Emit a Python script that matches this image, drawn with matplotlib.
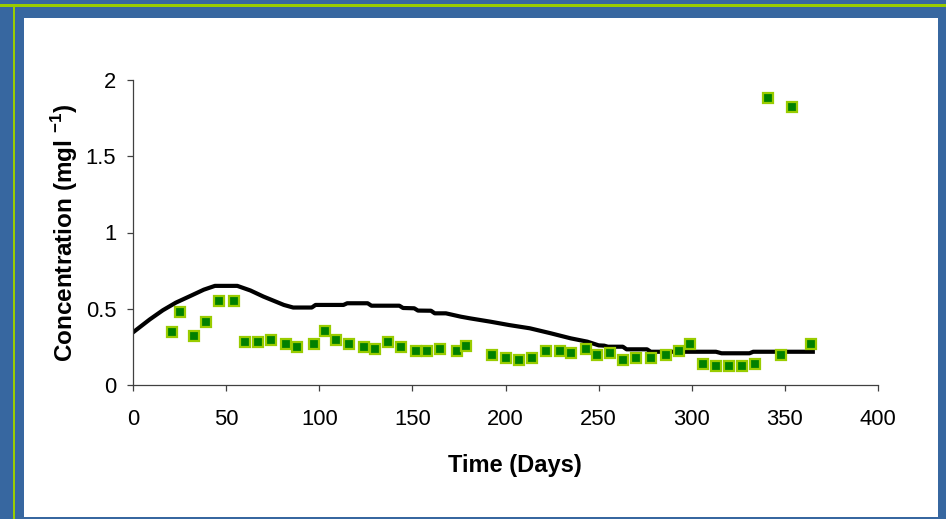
import numpy as np
import matplotlib.pyplot as plt
from matplotlib.patches import Rectangle

plt.rcParams['font.family'] = ['Liberation Sans', 'DejaVu Sans']
plt.rcParams['mathtext.fontset'] = 'custom'
plt.rcParams['mathtext.rm'] = 'Liberation Sans'
plt.rcParams['mathtext.bf'] = 'Liberation Sans:bold'

# observed concentrations (squares)
obs_day = [21, 25, 33, 39, 46, 54, 60, 67, 74, 82, 88, 97, 103, 109, 116, 124, 130,
           137, 144, 152, 158, 165, 174, 179, 193, 200, 207, 214, 222, 229, 235, 243,
           249, 256, 263, 270, 278, 286, 293, 299, 306, 313, 320, 327, 334, 341, 348,
           354, 364]
obs_conc = [0.35, 0.48, 0.32, 0.41, 0.55, 0.55, 0.28, 0.28, 0.295, 0.267, 0.25, 0.267,
            0.352, 0.295, 0.267, 0.25, 0.236,
            0.28, 0.251, 0.221, 0.221, 0.238, 0.221, 0.254, 0.195, 0.179, 0.164, 0.179,
            0.221, 0.221, 0.208, 0.238,
            0.195, 0.212, 0.164, 0.18, 0.18, 0.195, 0.223, 0.267, 0.138, 0.122, 0.122,
            0.122, 0.138, 1.88, 0.195, 1.823, 0.267]

# simulated concentration (line)
sim_day = [0, 9, 16, 23, 31, 38, 44, 56, 63, 70, 75, 81, 86, 96, 98, 113, 115, 126,
           128, 143, 145, 151, 153, 160, 162, 168, 176, 181, 192, 202, 213, 224, 235,
           244, 250, 253, 255, 263, 265, 276, 278, 313, 316, 331, 333, 365]
sim_conc = [0.345, 0.43, 0.49, 0.54, 0.585, 0.625, 0.65, 0.65, 0.62, 0.58, 0.555,
            0.525, 0.508, 0.508, 0.525, 0.525, 0.536, 0.536, 0.52, 0.52, 0.505, 0.503,
            0.488, 0.487, 0.47, 0.47, 0.448, 0.437, 0.415, 0.393, 0.372, 0.34, 0.306,
            0.284, 0.26, 0.258, 0.251, 0.251, 0.234, 0.234, 0.218, 0.218, 0.208, 0.208,
            0.218, 0.218]

x_ticks = [0, 50, 100, 150, 200, 250, 300, 350, 400]
y_ticks = [0, 0.5, 1, 1.5, 2]

fig = plt.figure(figsize=(9.46, 5.19), dpi=100)
fig.patch.set_facecolor('#3767a0')

# green frame lines and white panel (pixel based)
W, H = 946, 519
fig.patches.append(Rectangle((0, 1 - 7/H), 1, 2.5/H, transform=fig.transFigure,
                             facecolor='#99cc00', edgecolor='none', zorder=-5))
fig.patches.append(Rectangle((12.5/W, 0), 2.5/W, 1 - 4.5/H, transform=fig.transFigure,
                             facecolor='#99cc00', edgecolor='none', zorder=-5))
fig.patches.append(Rectangle((24/W, 2/H), (938-24)/W, (517-18)/H, transform=fig.transFigure,
                             facecolor='white', edgecolor='none', zorder=-5))

ax = fig.add_axes([133/W, 1 - 385/H, (878-133)/W, (385-80)/H])
ax.set_facecolor('none')

ax.plot(sim_day, sim_conc, color='black', linewidth=3, zorder=2)
ax.plot(obs_day, obs_conc, linestyle='none', marker='s', markersize=6.8,
        markerfacecolor='#008000', markeredgecolor='#99cc00', markeredgewidth=1.6,
        zorder=3)

ax.set_xlim(0, 400)
ax.set_ylim(0, 2)
ax.set_xticks(x_ticks)
ax.set_yticks(y_ticks)
ax.set_yticklabels(['0', '0.5', '1', '1.5', '2'])

for s in ['top', 'right']:
    ax.spines[s].set_visible(False)
for s in ['left', 'bottom']:
    ax.spines[s].set_color('#404040')
    ax.spines[s].set_linewidth(0.9)

ax.tick_params(axis='x', length=4, width=0.9, color='#404040', pad=13, labelsize=15.8)
ax.tick_params(axis='y', length=4, width=0.9, color='#404040', pad=8, labelsize=15.8)

ax.set_xlabel('Time (Days)', fontsize=17, fontweight='bold')
ax.xaxis.set_label_coords(0.513, -0.225)
ax.set_ylabel(r'Concentration (mgl $^{\mathbf{-1}}$)', fontsize=17.5, fontweight='bold')
ax.yaxis.set_label_coords(-0.071, 0.5)

fig.savefig('out.png', dpi=100, facecolor=fig.get_facecolor())
